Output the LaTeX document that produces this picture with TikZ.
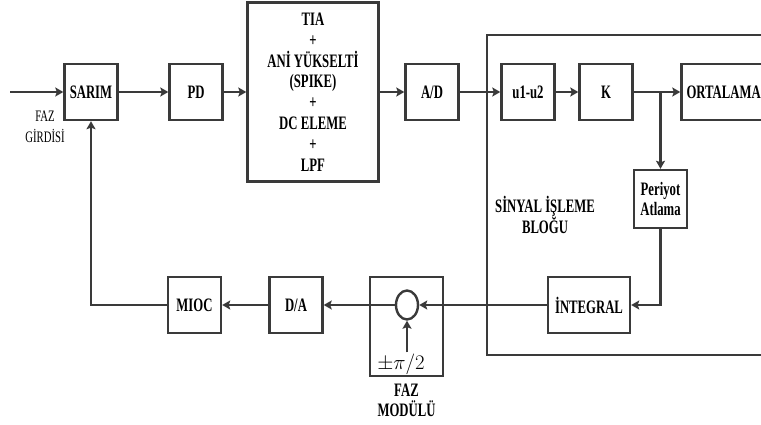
\documentclass[tikz,border=0pt]{standalone}
\usepackage{fontspec}
\setmainfont{Liberation Serif}[FakeStretch=0.67]
\usetikzlibrary{arrows.meta,positioning,shapes.geometric}
\definecolor{koyu}{HTML}{3A3A3A}

\begin{document}
\begin{tikzpicture}[x=1pt,y=-1pt,>={Stealth[length=8pt,width=9pt,inset=1.5pt]},
  blok/.style={draw=koyu,line width=2.4pt,minimum width=53pt,minimum height=56pt,align=center,
    font=\fontsize{19}{20.8}\selectfont\bfseries,inner sep=2pt},
  ok/.style={->,draw=koyu,line width=2.4pt},
  cizgi/.style={draw=koyu,line width=2.4pt},
  yazi/.style={align=center,font=\fontsize{19}{20}\selectfont\bfseries}]
\clip (0,0) rectangle (761,425);
\node[blok] (sarim) at (91,92) {SARIM};
\node[blok,right=49.6pt of sarim] (pd) {PD};
\node[blok,right=22.6pt of pd,minimum width=131pt,minimum height=179pt] (tia) {TIA\\+\\ANİ YÜKSELTİ\\(SPIKE)\\+\\DC ELEME\\+\\LPF};
\node[blok,right=24.6pt of tia] (ad) {A/D};
\node[blok,right=40.6pt of ad] (u12) {u1-u2};
\node[blok,right=22.6pt of u12] (k) {K};
\node[blok,right=46.6pt of k,text width=96pt,align=left,inner sep=5pt] (ort) {ORTALAMA};
\node[blok,minimum height=58pt] (periyot) at (660.5,199) {Periyot\\Atlama};
\node[blok,minimum width=82pt] (integral) at (589,305) {İNTEGRAL};
\node[draw=koyu,line width=2.4pt,minimum width=73pt,minimum height=99pt] (fazkutu) at (406.5,326.5) {};
\node[ellipse,draw=koyu,line width=2.4pt,minimum width=22pt,minimum height=29pt,inner sep=0pt] (top) at (407,305) {};
\node[font=\fontsize{22}{24}\selectfont,inner sep=1pt] (pi) at (401,364) {$\pm\pi/2$};
\node[blok] (da) at (296,305) {D/A};
\node[blok] (mioc) at (194.5,305) {MIOC};
\node[yazi,below=3pt of fazkutu] (fazad) {FAZ\\MODÜLÜ};
\node[align=center,font=\fontsize{16}{21}\selectfont] (girdi) at (45,127) {FAZ\\GİRDİSİ};
\node[yazi] (sinyal) at (545,215) {SİNYAL İŞLEME\\BLOĞU};
\coordinate (giris) at (10,92);
\draw[cizgi] (790,35) -| (487,355) -- (790,355);
\draw[ok] (giris)--(sarim);
\draw[ok] (sarim)--(pd);
\draw[ok] (pd)--(pd.east-|tia.west);
\draw[ok] (tia.east|-ad)--(ad);
\draw[ok] (ad)--(u12);
\draw[ok] (u12)--(k);
\draw[ok] (k)--(ort);
\draw[ok] (periyot.north|-k.east)--(periyot);
\draw[ok] (periyot)|-(integral);
\draw[ok] (integral)--(top);
\draw[ok] (top)--(da);
\draw[ok] (da)--(mioc);
\draw[ok] (mioc.west)-|(sarim.south);
\draw[ok] (pi.north-|top.south)--(top);
\end{tikzpicture}
\end{document}
